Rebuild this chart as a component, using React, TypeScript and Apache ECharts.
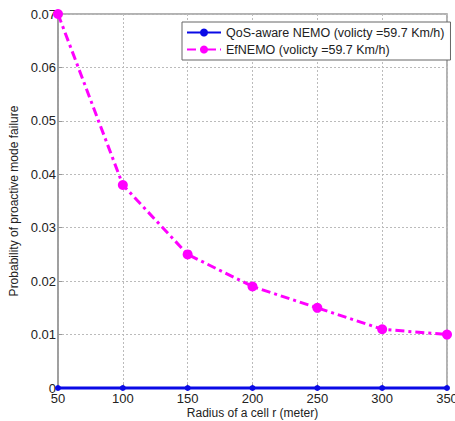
import React, { useEffect, useRef } from "react";
import * as echarts from "echarts";

const radius = [50, 100, 150, 200, 250, 300, 350];
const qosAware = [0, 0, 0, 0, 0, 0, 0];
const efNemo = [0.07, 0.038, 0.025, 0.019, 0.015, 0.011, 0.01];
const seriesNames = [
  "QoS-aware NEMO (volicty =59.7 Km/h)",
  "EfNEMO (volicty =59.7 Km/h)",
];

export default function App() {
  const ref = useRef<HTMLDivElement>(null);
  useEffect(() => {
    const chart = echarts.init(ref.current!, undefined, { renderer: "svg" });
    const font = "Liberation Sans, Arial, sans-serif";
    chart.setOption({
      animation: false,
      backgroundColor: "#fff",
      grid: {
        left: 58,
        right: 8,
        top: 14,
        bottom: 33,
        show: true,
        borderColor: "#999",
        borderWidth: 1.5,
        outerBoundsMode: "none",
        containLabel: false,
      },
      legend: {
        orient: "vertical",
        left: 182,
        top: 22,
        itemWidth: 34,
        itemHeight: 10,
        itemGap: 4,
        padding: [4, 6, 4, 4],
        borderColor: "#666",
        borderWidth: 1,
        backgroundColor: "#fff",
        textStyle: { fontFamily: font, fontSize: 12.5, color: "#222" },
        data: seriesNames,
      },
      xAxis: {
        type: "value",
        min: 50,
        max: 350,
        interval: 50,
        name: "Radius of a cell r (meter)",
        nameLocation: "middle",
        nameGap: 18,
        nameMoveOverlap: false,
        nameTextStyle: { fontFamily: font, fontSize: 12, color: "#222", lineHeight: 13 },
        axisLine: { show: true, lineStyle: { color: "#999", width: 1.5 } },
        axisTick: { show: true, inside: true, length: 4, lineStyle: { color: "#999" } },
        axisLabel: { fontFamily: font, fontSize: 13, color: "#222", margin: 4 },
        splitLine: { show: true, lineStyle: { color: "#bbb", type: [2, 2], width: 1 } },
      },
      yAxis: {
        type: "value",
        min: 0,
        max: 0.07,
        interval: 0.01,
        name: "Probability of proactive mode failure",
        nameLocation: "middle",
        nameGap: 38,
        nameMoveOverlap: false,
        nameTextStyle: { fontFamily: font, fontSize: 12, color: "#222" },
        axisLine: { show: true, lineStyle: { color: "#999", width: 1.5 } },
        axisTick: { show: true, inside: true, length: 4, lineStyle: { color: "#999" } },
        axisLabel: {
          fontFamily: font,
          fontSize: 13,
          color: "#222",
          margin: 2,
          formatter: (v: number) => (v === 0 ? "0" : v.toFixed(2)),
        },
        splitLine: { show: true, lineStyle: { color: "#bbb", type: [2, 2], width: 1 } },
      },
      series: [
        {
          name: seriesNames[0],
          type: "line",
          data: radius.map((r, i) => [r, qosAware[i]]),
          color: "#0a0ae6",
          lineStyle: { color: "#0a0ae6", width: 3 },
          symbol: "circle",
          symbolSize: 6,
          itemStyle: { color: "#0a0ae6" },
          clip: false,
          z: 3,
        },
        {
          name: seriesNames[1],
          type: "line",
          data: radius.map((r, i) => [r, efNemo[i]]),
          color: "#ff00ff",
          lineStyle: { color: "#ff00ff", width: 3, type: [9, 4, 3, 4] },
          symbol: "circle",
          symbolSize: 10,
          itemStyle: { color: "#ff00ff" },
          clip: false,
          z: 4,
        },
      ],
    });
    return () => chart.dispose();
  }, []);
  return <div ref={ref} style={{ width: 455, height: 421, position: "absolute", left: 0, top: 0 }} />;
}
